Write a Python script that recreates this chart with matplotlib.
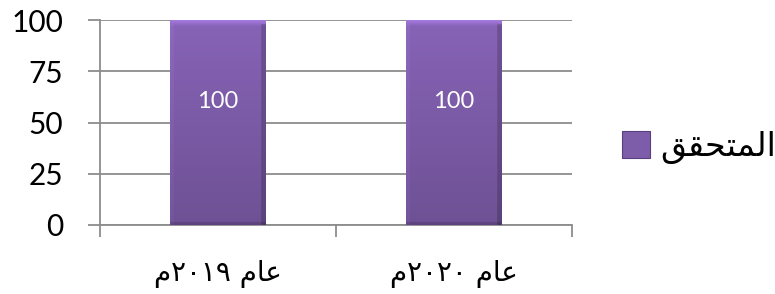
import re
import numpy as np
from matplotlib import pyplot as plt
from matplotlib.patches import Rectangle

# Data
categories = ["عام ٢٠١٩م", "عام ٢٠٢٠م"]
values = [100, 100]
series_name = "المتحقق"
y_ticks = [0, 25, 50, 75, 100]

# %%
# matplotlib has no Arabic shaping, so map letters to presentation forms by hand
# (iso, final, initial, medial)
FORMS = {
    "\u0627": ("\uFE8D", "\uFE8E", "\uFE8D", "\uFE8E"),  # alef
    "\u0644": ("\uFEDD", "\uFEDE", "\uFEDF", "\uFEE0"),  # lam
    "\u0645": ("\uFEE1", "\uFEE2", "\uFEE3", "\uFEE4"),  # meem
    "\u062A": ("\uFE95", "\uFE96", "\uFE97", "\uFE98"),  # teh
    "\u062D": ("\uFEA1", "\uFEA2", "\uFEA3", "\uFEA4"),  # hah
    "\u0642": ("\uFED5", "\uFED6", "\uFED7", "\uFED8"),  # qaf
    "\u0639": ("\uFEC9", "\uFECA", "\uFECB", "\uFECC"),  # ain
}
RIGHT_ONLY = {"\u0627"}


def shape_arabic(text):
    out = []
    for i, ch in enumerate(text):
        if ch not in FORMS:
            out.append(ch)
            continue
        prev = text[i - 1] if i > 0 else ""
        nxt = text[i + 1] if i + 1 < len(text) else ""
        j_prev = prev in FORMS and prev not in RIGHT_ONLY
        j_next = nxt in FORMS and ch not in RIGHT_ONLY
        iso, fin, ini, med = FORMS[ch]
        if j_prev and j_next:
            out.append(med)
        elif j_prev:
            out.append(fin)
        elif j_next:
            out.append(ini)
        else:
            out.append(iso)
    # right-to-left display, digit runs stay left-to-right
    tokens = re.findall(r"[\u0660-\u0669]+|.", "".join(out))
    return "".join(reversed(tokens))


# %%
plt.rcParams["font.family"] = ["Lato", "DejaVu Sans"]

grid_col = "#8c8c8c"
bar_col = np.array([0x7d, 0x5c, 0xa9]) / 255

fig = plt.figure(figsize=(7.75, 2.94), dpi=100)
ax = fig.add_axes([100 / 775, 1 - 225 / 294, 472 / 775, 205 / 294])

x = np.arange(len(categories))
bars = ax.bar(x, values, width=0.405, color=bar_col, zorder=3)

# bevelled gradient fill for each bar
h, w = 400, 100
yy = np.linspace(0, 1, h)[:, None]
xx = np.linspace(0, 1, w)[None, :]
shade = 1.08 - 0.2 * yy + 0 * xx
top = np.clip(1 - yy / 0.03, 0, 1)
shade = shade + 0.25 * top
shade = np.where((xx > 0.95) & (yy >= 0.02), shade * 0.82, shade)
shade = np.where((xx < 0.04) & (yy >= 0.02), shade * 1.05, shade)
shade = np.where(yy > 0.985, shade * 0.85, shade)
img = np.clip(bar_col[None, None, :] * shade[:, :, None], 0, 1)
for rect in bars:
    x0, y0 = rect.get_x(), rect.get_y()
    im = ax.imshow(img, extent=(x0, x0 + rect.get_width(), y0, y0 + rect.get_height()),
                   aspect="auto", zorder=4, interpolation="bilinear")
    im.set_clip_path(rect)
    ax.text(rect.get_x() + rect.get_width() / 2, 60, f"{rect.get_height():.0f}",
            ha="center", va="center", color="white", fontsize=17, zorder=5)

ax.set_xlim(-0.5, len(categories) - 0.5)
ax.set_ylim(0, 100)
ax.set_yticks(y_ticks)
ax.yaxis.grid(True, color=grid_col, linewidth=1.3, zorder=0)
ax.set_axisbelow(True)

ax.set_xticks(x)
ax.set_xticklabels([shape_arabic(c) for c in categories], fontsize=20,
                   family=["DejaVu Sans"])
ax.set_xticks(np.arange(len(categories) + 1) - 0.5, minor=True)
ax.tick_params(axis="x", which="major", length=0, pad=25)
ax.tick_params(axis="x", which="minor", length=8.5, width=1.3, color=grid_col)
ax.tick_params(axis="y", length=8.5, width=1.3, color=grid_col, labelsize=21.5, pad=18)

for side in ["top", "right"]:
    ax.spines[side].set_visible(False)
for side in ["left", "bottom"]:
    ax.spines[side].set_color(grid_col)
    ax.spines[side].set_linewidth(1.3)

# legend
handle = Rectangle((0, 0), 1, 1, facecolor=bar_col, edgecolor="#5a3f80", linewidth=0.8)
fig.legend([handle], [shape_arabic(series_name)], loc="center left",
           bbox_to_anchor=(619 / 775, 1 - 147 / 294), frameon=False,
           prop={"family": ["DejaVu Sans"], "size": 24},
           handlelength=0.84, handleheight=0.84, handletextpad=0.3,
           borderaxespad=0, borderpad=0.1)

fig.savefig("out.png", dpi=100)
